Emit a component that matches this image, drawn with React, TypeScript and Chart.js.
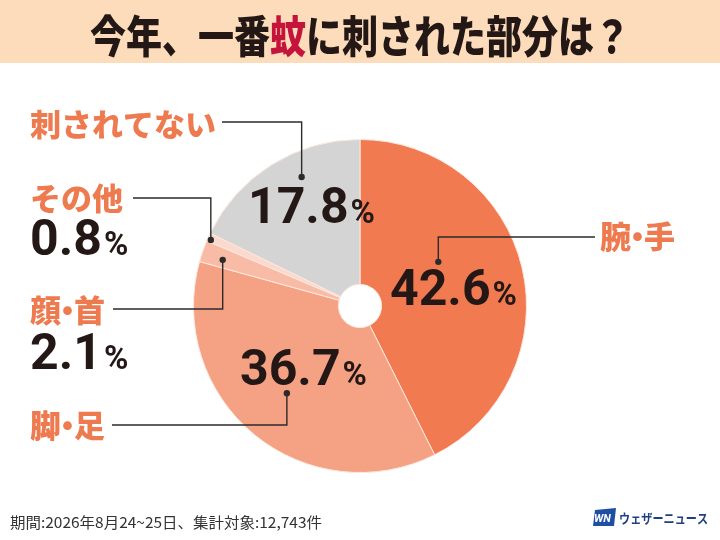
import { useEffect, useRef } from "react";
import { Chart, registerables } from "chart.js";

Chart.register(...registerables);

// ---- data ----
const categories = ["腕・手", "脚・足", "顔・首", "その他", "刺されてない"];
const values = [42.6, 36.7, 2.1, 0.8, 17.8];
const valueLabels = ["42.6", "36.7", "2.1", "0.8", "17.8"];
const titleParts = ["今年、一番", "蚊", "に刺された部分は？"];
const footnote = "期間:2026年8月24~25日、集計対象:12,743件";
const brandName = "ウェザーニュース";
const brandMark = "WN";

// ---- styles / layout ----
const sliceColors = ["#f27a51", "#f5a184", "#f8bba5", "#fbd9cc", "#d4d4d4"];
const labelOrange = "#ee7a4f";
const titleAccent = "#c4143c";
const bandColor = "#fddcbb";
const JP = '"Noto Sans CJK JP", "Noto Sans", sans-serif';
const NUM = 'Roboto, "DejaVu Sans", sans-serif';

// per-slice label layout: category text [x, centerY], value [x, baseline], leader line
const labelLayout = [
  { cat: [600, 236], val: [390, 305], lineY: 237, lineEnd: 595, t: 0.395, r: 0.54 },
  { cat: [30, 425], val: [240, 385], lineY: 425, lineEnd: 112, t: 0.504, r: 0.684 },
  { cat: [30, 310], val: [30, 369], lineY: 309, lineEnd: 113, t: 0.41, r: 0.87 },
  { cat: [30, 198], val: [30, 255], lineY: 198, lineEnd: 133, t: 0.3, r: 0.98 },
  { cat: [30, 124], val: [248, 223], lineY: 122, lineEnd: 222, t: 0.62, r: 0.85 },
];

function drawJPText(ctx: CanvasRenderingContext2D, text: string, x: number, y: number, size: number) {
  let cx = x;
  for (const ch of text) {
    if (ch === "・") {
      const adv = size * 0.42;
      ctx.fillText(ch, cx - (size - adv) / 2, y);
      cx += adv;
    } else {
      ctx.fillText(ch, cx, y);
      cx += ctx.measureText(ch).width;
    }
  }
}

const decorPlugin = {
  id: "decor",
  beforeDraw(chart: any) {
    const ctx = chart.ctx as CanvasRenderingContext2D;
    const w = chart.width;
    const h = chart.height;
    ctx.save();
    ctx.fillStyle = "#ffffff";
    ctx.fillRect(0, 0, w, h);
    ctx.fillStyle = bandColor;
    ctx.fillRect(0, 0, w, 63);

    // title
    ctx.font = `900 44px ${JP}`;
    ctx.textBaseline = "middle";
    const widths = titleParts.map((p) => ctx.measureText(p).width);
    const total = widths.reduce((a, b) => a + b, 0);
    const targetW = 540;
    const sx = targetW / total;
    ctx.translate(360 - targetW / 2, 36);
    ctx.scale(sx, 1);
    let x = 0;
    titleParts.forEach((p, i) => {
      ctx.fillStyle = i === 1 ? titleAccent : "#231815";
      ctx.fillText(p, x, 0);
      x += widths[i];
    });
    ctx.restore();

    // footnote
    ctx.save();
    ctx.font = `400 15px ${JP}`;
    ctx.textBaseline = "middle";
    ctx.fillStyle = "#333333";
    const fw = ctx.measureText(footnote).width;
    ctx.translate(10, 522);
    ctx.scale(312 / fw, 1);
    ctx.fillText(footnote, 0, 0);
    ctx.restore();

    // brand
    ctx.save();
    ctx.fillStyle = "#1f4fa3";
    ctx.beginPath();
    ctx.moveTo(595, 510);
    ctx.lineTo(616, 508);
    ctx.lineTo(614, 526);
    ctx.lineTo(593, 526);
    ctx.closePath();
    ctx.fill();
    ctx.fillStyle = "#ffffff";
    ctx.font = `italic 700 11px ${NUM}`;
    ctx.textBaseline = "middle";
    ctx.fillText(brandMark, 594, 519);
    ctx.fillStyle = "#1e3f80";
    ctx.font = `700 13px ${JP}`;
    const bw = ctx.measureText(brandName).width;
    ctx.translate(619, 518);
    ctx.scale(89 / bw, 1);
    ctx.fillText(brandName, 0, 0);
    ctx.restore();
  },
  afterDraw(chart: any) {
    const ctx = chart.ctx as CanvasRenderingContext2D;
    const meta = chart.getDatasetMeta(0);
    ctx.save();
    meta.data.forEach((arc: any, i: number) => {
      const L = labelLayout[i];
      const p = arc.getProps(["x", "y", "startAngle", "endAngle", "outerRadius"], true);
      const ang = p.startAngle + L.t * (p.endAngle - p.startAngle);
      const px = p.x + Math.cos(ang) * p.outerRadius * L.r;
      const py = p.y + Math.sin(ang) * p.outerRadius * L.r;

      // leader
      ctx.strokeStyle = "#2b2b2b";
      ctx.lineWidth = 1.4;
      ctx.beginPath();
      ctx.moveTo(px, py);
      ctx.lineTo(px, L.lineY);
      ctx.lineTo(L.lineEnd, L.lineY);
      ctx.stroke();
      ctx.fillStyle = "#2b2b2b";
      ctx.beginPath();
      ctx.arc(px, py, 3.2, 0, Math.PI * 2);
      ctx.fill();

      // category
      ctx.fillStyle = labelOrange;
      ctx.font = `900 31px ${JP}`;
      ctx.textBaseline = "middle";
      ctx.textAlign = "left";
      drawJPText(ctx, categories[i], L.cat[0], L.cat[1], 31);

      // value
      ctx.fillStyle = "#231815";
      ctx.textBaseline = "alphabetic";
      ctx.font = `700 50px ${NUM}`;
      ctx.fillText(valueLabels[i], L.val[0], L.val[1]);
      const vw = ctx.measureText(valueLabels[i]).width;
      ctx.font = `700 33px ${NUM}`;
      ctx.fillText("%", L.val[0] + vw + 2, L.val[1]);
    });
    ctx.restore();
  },
};

export default function App() {
  const ref = useRef<HTMLCanvasElement | null>(null);
  useEffect(() => {
    document.body.style.margin = "0";
    const canvas = ref.current;
    if (!canvas) return;
    const chart = new Chart(canvas, {
      type: "doughnut",
      data: {
        labels: categories,
        datasets: [
          {
            data: values,
            backgroundColor: sliceColors,
            borderColor: "#fde8de",
            borderWidth: 1,
          },
        ],
      },
      options: {
        animation: false,
        responsive: true,
        maintainAspectRatio: false,
        cutout: "13%",
        layout: { padding: { top: 139, bottom: 67, left: 0, right: 0 } },
        plugins: {
          legend: { display: false },
          tooltip: { enabled: false },
        },
      },
      plugins: [decorPlugin],
    });
    return () => chart.destroy();
  }, []);
  return (
    <div style={{ width: 720, height: 540, position: "relative" }}>
      <canvas ref={ref} />
    </div>
  );
}
